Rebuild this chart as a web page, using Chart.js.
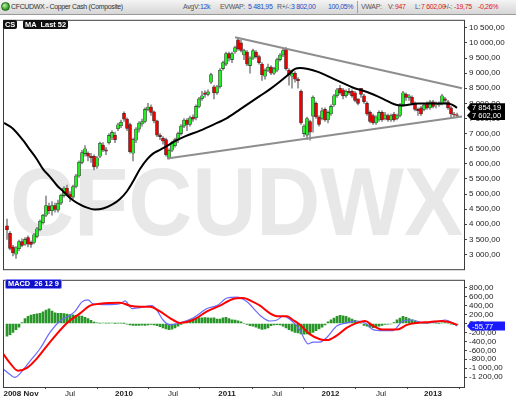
<!DOCTYPE html>
<html>
<head>
<meta charset="utf-8">
<script src="https://cdn.jsdelivr.net/npm/chart.js@4.4.1/dist/chart.umd.min.js"></script>
<style>
  body { margin: 0; width: 516px; height: 397px; overflow: hidden; background: #fff; font-family: "Liberation Sans", Arial, sans-serif; position: relative; }
  #hdr { position: absolute; left: 0; top: 0; width: 516px; height: 14px; background: linear-gradient(#f4f4f4, #d6d6d6); border-bottom: 1px solid #9a9a9a; }
  #hdr span { position: absolute; top: 2px; font-size: 7px; letter-spacing: -0.35px; white-space: nowrap; line-height: 10px; }
  .g { color: #555; } .b { color: #1d4fc8; } .r { color: #e01818; }
  #icon { position: absolute; left: 1px; top: 2px; width: 9px; height: 9px; border-radius: 50%; background: radial-gradient(circle at 35% 35%, #b8f0a0, #2a9a1a 70%); border: 1px solid #246018; box-sizing: border-box; }
  #sep { position: absolute; left: 357px; top: 1px; width: 1px; height: 12px; background: #a0a0a0; }
  canvas { position: absolute; left: 0; }
  .tag { position: absolute; height: 9px; line-height: 9px; font-size: 7.4px; font-weight: bold; color: #fff; border-radius: 2px; padding: 0 2px; white-space: nowrap; }
</style>
</head>
<body>
<div id="hdr">
  <div id="icon"></div>
  <span style="left:11px;color:#333">CFCUDWX - Copper Cash (Composite)</span>
  <span class="g" style="left:183px">AvgV:</span>
  <span class="b" style="left:200px">12k</span>
  <span class="g" style="left:220px">EVWAP:</span>
  <span class="b" style="left:248px">5 481,95</span>
  <span class="g" style="left:277px">R+/-:</span>
  <span class="b" style="left:291px">3 802,00</span>
  <span class="b" style="left:328px">100,05%</span>
  <div id="sep"></div>
  <span class="g" style="left:361px">VWAP:</span>
  <span class="g" style="left:388px">V:</span>
  <span class="r" style="left:395px">947</span>
  <span class="g" style="left:415px">L:</span>
  <span class="r" style="left:421px">7 602,00</span>
  <span class="g" style="left:443px">+/-:</span>
  <span class="r" style="left:454px">-19,75</span>
  <span class="r" style="left:478px">-0,26%</span>
</div>
<canvas id="main" width="516" height="262" style="top:14px"></canvas>
<canvas id="macd" width="516" height="123" style="top:274px"></canvas>
<div class="tag" style="left:3px;top:20px;background:#111;">CS</div>
<div class="tag" style="left:23px;top:20px;background:#111;">MA&nbsp; Last 52</div>
<div class="tag" style="left:5px;top:279px;background:#1212c8;border:1px solid #8a8aff;height:8px;line-height:8px;">MACD&nbsp; 26 12 9</div>
<script>
// weekly candles, index 0 = Nov 2008
const opens  = [3950,3700,3250,3010,3190,3430,3340,3560,3400,3400,3600,3820,4050,4300,4600,4450,4620,4470,4700,4950,
  5200,5000,4900,5250,5600,6050,6340,6350,6250,6250,5920,6250,6620,6460,6700,6880,6950,7160,7260,7670,
  7480,7300,6350,6780,7150,7320,7400,7800,7880,7720,7420,6950,6850,6800,6200,6450,6600,6780,7000,7250,
  7450,7300,7550,7520,7900,8150,8350,8300,8700,8550,8350,8550,9150,9300,9650,9450,9700,10100,10000,9600,
  9700,9250,9500,9700,9550,9300,8900,9100,9200,9000,9100,9450,9600,9800,9100,8900,9000,8800,8400,7000,
  6950,7400,7580,8000,7550,7500,7800,7450,7650,7950,8250,8500,8450,8250,8400,8400,8350,8150,8500,8250,
  8000,7700,7600,7350,7450,7700,7500,7600,7450,7650,7500,7600,7950,8300,8200,8200,8000,7800,7850,7800,
  8000,7850,8050,7950,7950,8000,8150,8050,7850,7650,7620];
const highs  = [4170,3760,3300,3260,3480,3520,3560,3620,3450,3700,3900,4150,4330,4930,4700,4750,4700,4800,5000,5250,
  5300,5080,5300,5650,6100,6450,6600,6400,6350,6300,6250,6720,6700,6550,7000,7100,7050,7350,7450,7720,
  7520,7350,6850,7200,7400,7480,7850,8000,7950,7750,7450,7000,6900,6850,6500,6750,6850,7050,7300,7500,
  7500,7580,7620,7950,8200,8400,8420,8450,9000,8600,8600,9150,9400,9700,9700,9700,9900,10180,10100,9800,
  9750,9550,9800,9750,9600,9350,9150,9300,9250,9200,9500,9650,9800,9850,9150,9100,9050,8850,8450,7300,
  7550,7450,8250,8050,7600,7850,7850,7750,7950,8300,8500,8600,8500,8450,8500,8450,8400,8150,8500,8300,
  8050,7750,7650,7600,7750,7750,7700,7650,7650,7700,7650,8000,8400,8350,8300,8250,8050,7850,7900,8000,
  8050,8100,8100,8050,8050,8300,8200,8100,7900,7700,7680];
const lows   = [3500,3150,2950,2870,3120,3250,3300,3250,3230,3350,3550,3780,4000,4250,4350,4300,4400,4400,4650,4900,
  4950,4750,4850,5200,5550,6000,6250,6100,6050,5800,5850,6200,6400,6300,6650,6800,6700,7100,7200,7400,
  7100,6350,6100,6700,7050,7250,7350,7750,7600,7350,6900,6800,6650,6250,6150,6400,6550,6700,6950,7200,
  7100,7250,7400,7450,7850,8100,8200,8250,8650,8150,8300,8500,9100,9250,9400,9350,9650,9750,9700,9450,
  9250,9000,9450,9500,9300,8760,8800,9050,8950,8950,9050,9400,9550,9100,8600,8500,8700,8500,7300,6900,
  6800,6780,7050,7500,7250,7450,7400,7350,7600,7900,8200,8300,8150,8200,8300,8200,8050,7950,8200,8000,
  7600,7350,7300,7300,7400,7400,7450,7400,7400,7400,7450,7550,7900,8100,8100,7950,7750,7600,7600,7750,
  7800,7800,7850,7850,7900,7950,8000,7800,7550,7550,7560];
const closes = [3820,3200,3050,3220,3430,3300,3500,3340,3330,3650,3850,4100,4300,4620,4450,4620,4490,4700,4960,5200,
  5000,4900,5250,5600,6050,6370,6500,6250,6200,5900,6200,6680,6460,6420,6940,7040,6800,7290,7380,7480,
  7170,6400,6800,7150,7350,7400,7800,7880,7700,7420,6950,6900,6750,6300,6450,6700,6800,7000,7250,7450,
  7300,7520,7480,7900,8150,8250,8300,8380,8950,8350,8550,9100,9350,9650,9500,9650,9850,9800,9750,9750,
  9300,9500,9750,9550,9350,8950,9100,9200,9000,9150,9450,9600,9750,9150,8950,9000,8800,8750,7350,7250,
  7500,7050,8200,7550,7300,7750,7450,7700,7900,8250,8450,8350,8250,8400,8350,8250,8100,8000,8300,8050,
  7650,7400,7350,7550,7700,7450,7620,7450,7600,7450,7600,7950,8350,8200,8250,8000,7800,7750,7650,7950,
  7850,8050,7900,7950,8000,8250,8100,7850,7650,7620,7602];

// MA Last 52, read at selected candle positions
const maIdx = [-1,2,5.33,7.67,10,12,14.33,16.67,18.67,21,23.33,26.67,29.33,32,35,37.67,40,42,44.33,46.67,48.67,51,53.33,56,59.33,
  64.33,68.67,73.33,77.67,81,84.33,87.67,91,93.33,96,97.67,100.33,103.67,108.67,115,120,125.33,129.33,131.67,137,142,146,148.33,150];
const maVals = [7355,7164,6782,6463,6145,5826,5571,5284,5093,4870,4711,4552,4488,4520,4647,4838,5093,5412,5826,6145,6336,6463,6591,6750,6909,
  7100,7292,7515,7801,8024,8247,8471,8725,8917,9140,9171,9140,9044,8821,8534,8375,8152,7961,7929,7993,7993,7993,7961,7854.19];

// triangle trendlines
const upperIdx = [76, 151.67], upperVals = [10191, 8502];
const lowerIdx = [53.33, 151.67], lowerVals = [6177, 7563];

// MACD 26 12 9
const macdIdx = [-1.33,1,2.67,4.33,7.67,11,14.33,17.67,21,22.67,25,27,28.67,33.33,37.67,39.33,41.67,44.33,48.33,50,52,54.33,57.67,62,66.67,
  70,73.33,76.67,80,84.33,87.67,90,92,95,97.67,99.33,100.33,102,104.33,106.67,110,113.33,116.67,119.33,122,125.33,128.67,132,135.33,138.67,143.33,146,148.67,150];
const macdVals = [-1013,-1142,-1206,-1120,-842,-564,-200,57,186,271,485,528,442,421,442,507,335,357,400,293,79,-29,14,122,335,
  400,571,592,485,186,57,79,165,57,-157,-371,-457,-414,-414,-307,-50,14,57,14,-135,-157,-157,57,79,14,36,79,14,-55.77];
const sigIdx = [-1.33,1,3.67,6.67,10,14.33,20,24.33,27.67,31,37.67,41,44.33,47.67,51,54.33,57.67,62,66.67,71,75.33,78.67,82,84.33,87.67,
  90,93.33,95.33,97.67,101,104.33,106.67,110,113.33,116.67,119.33,122,125.33,130,133.33,136.67,141,145,148.33,150];
const sigVals = [-671,-885,-1056,-992,-778,-414,14,228,400,442,464,400,378,378,271,122,14,79,271,400,550,571,485,400,228,
  165,165,79,-29,-243,-350,-371,-264,-93,14,57,-50,-135,-135,-29,14,36,57,14,-29];
const histVals = [-280,-250,-200,-140,-80,20,110,160,190,205,215,228,260,300,330,280,240,228,228,225,
  210,200,195,186,175,165,140,110,70,30,15,10,12,8,10,12,5,10,8,5,
  -15,-30,-40,-45,-40,-35,-40,-30,-20,-30,-50,-70,-100,-120,-135,-125,-100,-60,-20,20,
  60,80,110,130,130,125,135,130,120,125,100,100,130,140,110,85,79,60,40,0,
  -20,-50,-60,-80,-110,-130,-120,-100,-50,-30,-25,-30,-60,-100,-140,-170,-200,-210,-230,-240,
  -235,-230,-200,-160,-120,-80,-30,40,80,120,160,186,175,160,130,100,70,40,0,-40,
  -60,-80,-90,-80,-60,-40,-20,-15,-10,20,80,120,160,140,110,80,57,40,20,10,
  5,15,20,10,5,15,20,0,-15,-25,-29];

const yTicks = [3000,3500,4000,4500,5000,5500,6000,6500,7000,7500,8000,8500,9000,9500,10000,10500];
const macdTicks = [-1200,-1000,-800,-600,-400,-200,0,200,400,600,800];
const xTickIdx = [4.67,21,39,55.33,73.33,90,107.83,124.67,142];
const xTickLabels = ['2008 Nov','Jul','2010','Jul','2011','Jul','2012','Jul','2013'];

const FONT = '"Liberation Sans", Arial, sans-serif';
function fmt(v) {
  const neg = v < 0;
  let [i, d] = Math.abs(v).toFixed(2).split('.');
  i = i.replace(/\B(?=(\d{3})+(?!\d))/g, ' ');
  return (neg ? '-' : '') + i + ',' + d;
}
const pts = (xs, ys) => xs.map((x, j) => ({x: x, y: ys[j]}));

const framePlugin = {
  id: 'frame',
  afterDraw(chart) {
    const a = chart.chartArea, c = chart.ctx;
    c.save();
    c.strokeStyle = '#3c3c3c';
    c.lineWidth = 1;
    c.strokeRect(a.left - 0.5, a.top - 0.5, a.right - a.left + 1, a.bottom - a.top + 1);
    c.restore();
  }
};

function valueTag(chart, value, bg, y) {
  const c = chart.ctx, x = chart.chartArea.right + 3;
  c.save();
  c.fillStyle = bg;
  c.beginPath();
  c.moveTo(x, y);
  c.lineTo(x + 4, y - 4.5);
  c.lineTo(x + 38, y - 4.5);
  c.lineTo(x + 38, y + 4.5);
  c.lineTo(x + 4, y + 4.5);
  c.closePath();
  c.fill();
  c.fillStyle = '#fff';
  c.font = '7.5px ' + FONT;
  c.textBaseline = 'middle';
  c.fillText(fmt(value), x + 5, y + 0.5);
  c.restore();
}

const mainPlugin = {
  id: 'mainExtras',
  beforeDatasetsDraw(chart) {
    // watermark: page y 168..235, canvas starts at page y 14
    const c = chart.ctx;
    c.save();
    c.fillStyle = '#e8e8e8';
    c.font = 'bold 97px ' + FONT;
    c.textBaseline = 'alphabetic';
    c.fillText('CFCUDWX', 10, 221, 453);
    c.restore();
  },
  afterDraw(chart) {
    const y = chart.scales.y;
    valueTag(chart, maVals[maVals.length - 1], '#000', y.getPixelForValue(maVals[maVals.length - 1]));
    valueTag(chart, closes[closes.length - 1], '#000', y.getPixelForValue(closes[closes.length - 1]));
  }
};

const macdPlugin = {
  id: 'macdExtras',
  afterDraw(chart) {
    const y = chart.scales.y, v = macdVals[macdVals.length - 1];
    valueTag(chart, v, '#1a1aff', y.getPixelForValue(v));
  }
};

const idx = closes.map((_, i) => i);
const rightAxis = (min, max, ticks) => ({
  position: 'right', min: min, max: max,
  afterFit(s) { s.width = 52; },
  afterBuildTicks(s) { s.ticks = ticks.map(v => ({value: v})); },
  grid: { drawOnChartArea: false, tickLength: 3, color: '#444' },
  border: { display: false },
  ticks: { autoSkip: false, font: { family: FONT, size: 8 }, color: '#222', padding: 2, callback: v => fmt(v) }
});

new Chart(document.getElementById('main'), {
  type: 'bar',
  data: {
    datasets: [
      { label: 'wick', data: idx.map(i => ({x: i, y: [lows[i], highs[i]]})), backgroundColor: '#8c8c8c',
        barThickness: 1, grouped: false, order: 5 },
      { label: 'CS', data: idx.map(i => ({x: i, y: [opens[i], closes[i]]})),
        backgroundColor: c => closes[c.dataIndex] >= opens[c.dataIndex] ? '#22ee22' : '#ee0000',
        borderColor: '#2a2a2a', borderWidth: 0.6, borderSkipped: false, barThickness: 3, grouped: false, order: 4 },
      { type: 'line', label: 'upper', data: pts(upperIdx, upperVals), borderColor: '#8e8e8e', borderWidth: 2, pointRadius: 0, order: 3 },
      { type: 'line', label: 'lower', data: pts(lowerIdx, lowerVals), borderColor: '#8e8e8e', borderWidth: 2, pointRadius: 0, order: 3 },
      { type: 'line', label: 'MA Last 52', data: pts(maIdx, maVals), borderColor: '#000', borderWidth: 2,
        pointRadius: 0, cubicInterpolationMode: 'monotone', order: 1 }
    ]
  },
  options: {
    responsive: false, animation: false,
    layout: { padding: { top: 2, bottom: 2, left: 4, right: 0 } },
    plugins: { legend: { display: false }, tooltip: { enabled: false } },
    scales: {
      x: { type: 'linear', min: -1, max: 152.33, offset: false, display: false },
      y: rightAxis(2513, 10733, yTicks)
    }
  },
  plugins: [framePlugin, mainPlugin]
});

new Chart(document.getElementById('macd'), {
  type: 'bar',
  data: {
    datasets: [
      { label: 'hist', data: idx.map(i => ({x: i, y: histVals[i]})), backgroundColor: '#2a962a',
        barThickness: 2, grouped: false, order: 3 },
      { type: 'line', label: 'MACD', data: pts(macdIdx, macdVals), borderColor: '#6a6aff', borderWidth: 1.2,
        pointRadius: 0, cubicInterpolationMode: 'monotone', order: 2 },
      { type: 'line', label: 'Signal', data: pts(sigIdx, sigVals), borderColor: '#ff0000', borderWidth: 2,
        pointRadius: 0, cubicInterpolationMode: 'monotone', order: 1 }
    ]
  },
  options: {
    responsive: false, animation: false,
    layout: { padding: { top: 2, bottom: 0, left: 4, right: 0 } },
    plugins: { legend: { display: false }, tooltip: { enabled: false } },
    scales: {
      x: {
        type: 'linear', min: -1, max: 152.33, offset: false,
        afterFit(s) { s.height = 10; },
        afterBuildTicks(s) { s.ticks = xTickIdx.map(v => ({value: v})); },
        grid: { drawOnChartArea: false, tickLength: 2, color: '#444' },
        border: { display: false },
        ticks: {
          autoSkip: false, maxRotation: 0, padding: 0, color: '#222',
          font: c => ({ family: FONT, size: 8, weight: xTickLabels[c.index] === 'Jul' ? 'normal' : 'bold' }),
          callback: (v, i) => xTickLabels[i]
        }
      },
      y: rightAxis(-1420, 956, macdTicks)
    }
  },
  plugins: [framePlugin, macdPlugin]
});
</script>
</body>
</html>
